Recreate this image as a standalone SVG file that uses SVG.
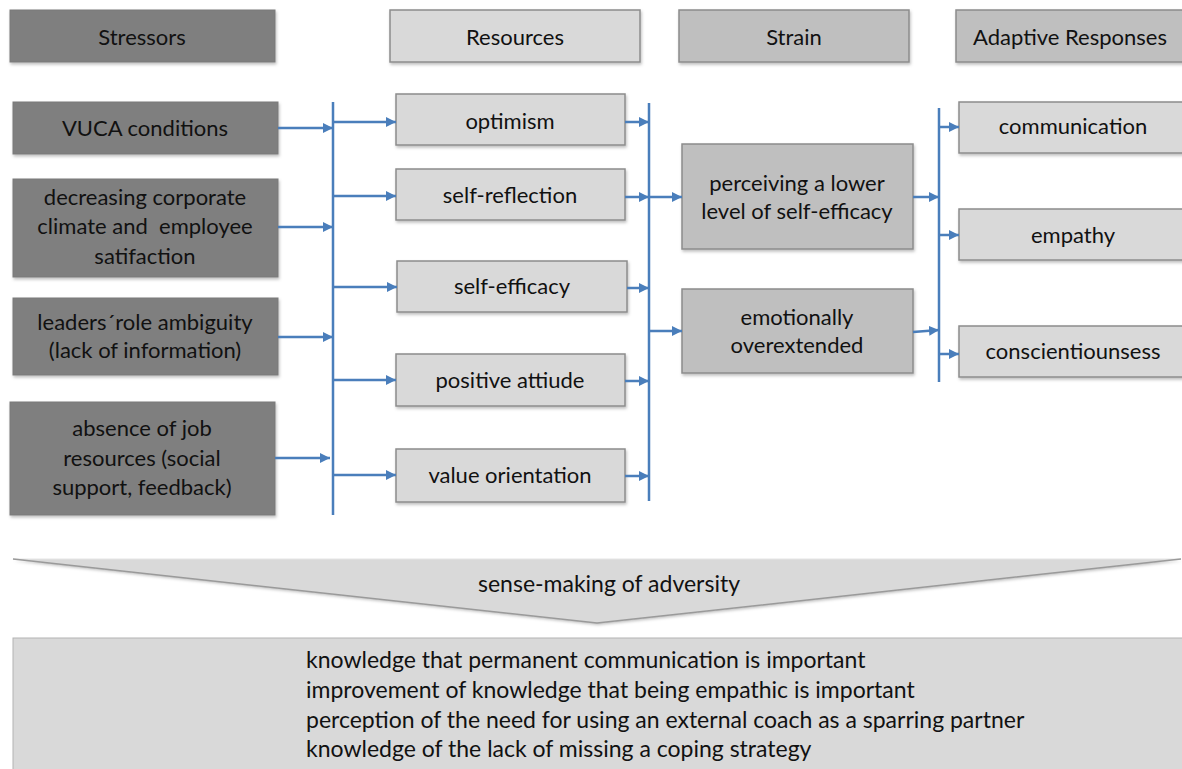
<svg xmlns="http://www.w3.org/2000/svg" width="1182" height="769" viewBox="0 0 1182 769">
  <defs>
    <filter id="sh" x="-5%" y="-10%" width="112%" height="135%">
      <feDropShadow dx="1" dy="2" stdDeviation="1.5" flood-color="#000" flood-opacity="0.25"/>
    </filter>
    <marker id="ah" markerUnits="userSpaceOnUse" markerWidth="10" markerHeight="10" refX="10" refY="5" orient="auto" viewBox="0 0 10 10">
      <path d="M0,0 L10,5 L0,10 z" fill="#4a7ebb"/>
    </marker>
  </defs>
  <style>
    .dark{fill:#7f7f7f;stroke:#7a7a7a;stroke-width:1}
    .mid{fill:#bfbfbf;stroke:#8c8c8c;stroke-width:1.5}
    .light{fill:#d9d9d9;stroke:#8c8c8c;stroke-width:1.5}
    .box{filter:url(#sh)}
    text{font-family:Lato,"Open Sans",sans-serif;font-size:22px;fill:#111;text-anchor:middle}
    text.big{font-size:23px}
    text.left{text-anchor:start}
    .bus{stroke:#4a7ebb;stroke-width:2.5;fill:none}
    .arr{stroke:#4a7ebb;stroke-width:2.5;fill:none;marker-end:url(#ah)}
  </style>

  <!-- column headers -->
  <g id="hdr-stressors"><rect class="dark box" x="10" y="10" width="265" height="52"/><text x="142" y="45">Stressors</text></g>
  <g id="hdr-resources"><rect class="light box" x="390" y="10" width="250" height="52"/><text x="515" y="45">Resources</text></g>
  <g id="hdr-strain"><rect class="mid box" x="679" y="10" width="230" height="52"/><text x="794" y="45">Strain</text></g>
  <g id="hdr-adaptive"><rect class="mid box" x="956" y="10" width="240" height="52"/><text x="1070" y="45">Adaptive Responses</text></g>

  <!-- stressors -->
  <g id="s-vuca"><rect class="dark box" x="13" y="102" width="265" height="52"/><text x="145" y="136">VUCA conditions</text></g>
  <g id="s-climate"><rect class="dark box" x="13" y="179" width="265" height="98"/>
    <text x="145" y="205">decreasing corporate</text>
    <text x="145" y="234" xml:space="preserve">climate and  employee</text>
    <text x="145" y="264">satifaction</text></g>
  <g id="s-role"><rect class="dark box" x="13" y="298" width="265" height="77"/>
    <text x="145" y="330">leaders´role ambiguity</text>
    <text x="145" y="358">(lack of information)</text></g>
  <g id="s-absence"><rect class="dark box" x="10" y="402" width="265" height="113"/>
    <text x="142" y="436">absence of job</text>
    <text x="142" y="466">resources (social</text>
    <text x="142" y="495">support, feedback)</text></g>

  <!-- resources -->
  <g id="r-optimism"><rect class="light box" x="396" y="94" width="229" height="51"/><text x="510" y="129">optimism</text></g>
  <g id="r-reflection"><rect class="light box" x="396" y="169" width="229" height="51"/><text x="510" y="203">self-reflection</text></g>
  <g id="r-efficacy"><rect class="light box" x="397" y="261" width="230" height="51"/><text x="512" y="294">self-efficacy</text></g>
  <g id="r-attitude"><rect class="light box" x="396" y="354" width="229" height="52"/><text x="510" y="388">positive attiude</text></g>
  <g id="r-values"><rect class="light box" x="396" y="449" width="229" height="53"/><text x="510" y="483">value orientation</text></g>

  <!-- strain -->
  <g id="t-efficacy"><rect class="mid box" x="682" y="144" width="231" height="105"/>
    <text x="797" y="191">perceiving a lower</text>
    <text x="797" y="219">level of self-efficacy</text></g>
  <g id="t-emotional"><rect class="mid box" x="682" y="289" width="231" height="84"/>
    <text x="797" y="325">emotionally</text>
    <text x="797" y="353">overextended</text></g>

  <!-- adaptive responses -->
  <g id="a-communication"><rect class="light box" x="959" y="102" width="240" height="51"/><text x="1073" y="134">communication</text></g>
  <g id="a-empathy"><rect class="light box" x="959" y="209" width="240" height="51"/><text x="1073" y="243">empathy</text></g>
  <g id="a-conscientious"><rect class="light box" x="959" y="326" width="240" height="51"/><text x="1073" y="359">conscientiounsess</text></g>

  <!-- connectors -->
  <g id="connectors">
    <line class="bus" x1="333" y1="102" x2="333" y2="515"/>
    <line class="bus" x1="649" y1="103" x2="649" y2="501"/>
    <line class="bus" x1="939" y1="108" x2="939" y2="382"/>

    <line class="arr" x1="278" y1="128" x2="333" y2="128"/>
    <line class="arr" x1="278" y1="227" x2="333" y2="227"/>
    <line class="arr" x1="278" y1="337" x2="333" y2="337"/>
    <line class="arr" x1="275" y1="458" x2="330" y2="458"/>

    <line class="arr" x1="333" y1="122" x2="396" y2="122"/>
    <line class="arr" x1="333" y1="196" x2="396" y2="196"/>
    <line class="arr" x1="333" y1="287" x2="397" y2="287"/>
    <line class="arr" x1="333" y1="380" x2="396" y2="380"/>
    <line class="arr" x1="333" y1="475" x2="396" y2="475"/>

    <line class="arr" x1="625" y1="122" x2="649" y2="122"/>
    <line class="arr" x1="625" y1="197" x2="649" y2="197"/>
    <line class="arr" x1="627" y1="288" x2="649" y2="288"/>
    <line class="arr" x1="625" y1="381" x2="649" y2="381"/>
    <line class="arr" x1="625" y1="476" x2="649" y2="476"/>

    <line class="arr" x1="649" y1="197" x2="682" y2="197"/>
    <line class="arr" x1="649" y1="331" x2="682" y2="331"/>

    <line class="arr" x1="913" y1="197" x2="939" y2="197"/>
    <line class="arr" x1="913" y1="332" x2="939" y2="330"/>

    <line class="arr" x1="939" y1="127" x2="959" y2="127"/>
    <line class="arr" x1="939" y1="235" x2="959" y2="235"/>
    <line class="arr" x1="939" y1="354" x2="959" y2="354"/>
  </g>

  <!-- sense-making chevron -->
  <g id="sense-making">
    <polygon points="13,559 1181,559 597,623" fill="#d9d9d9" filter="url(#sh)"/>
    <line x1="13" y1="559" x2="1181" y2="559" stroke="#e6e6e6" stroke-width="1"/>
    <polyline points="13,559 597,623 1181,559" fill="none" stroke="#9a9a9a" stroke-width="1.5"/>
    <text class="big" x="609" y="592">sense-making of adversity</text>
  </g>

  <!-- learning outcomes -->
  <g id="outcomes">
    <rect x="13" y="638" width="1180" height="140" fill="#d9d9d9" stroke="#b3b3b3" stroke-width="1"/>
    <text class="left big" x="306" y="668">knowledge that permanent communication is important</text>
    <text class="left big" x="306" y="698">improvement of knowledge that being empathic is important</text>
    <text class="left big" x="306" y="728">perception of the need for using an external coach as a sparring partner</text>
    <text class="left big" x="306" y="757">knowledge of the lack of missing a coping strategy</text>
  </g>
</svg>
